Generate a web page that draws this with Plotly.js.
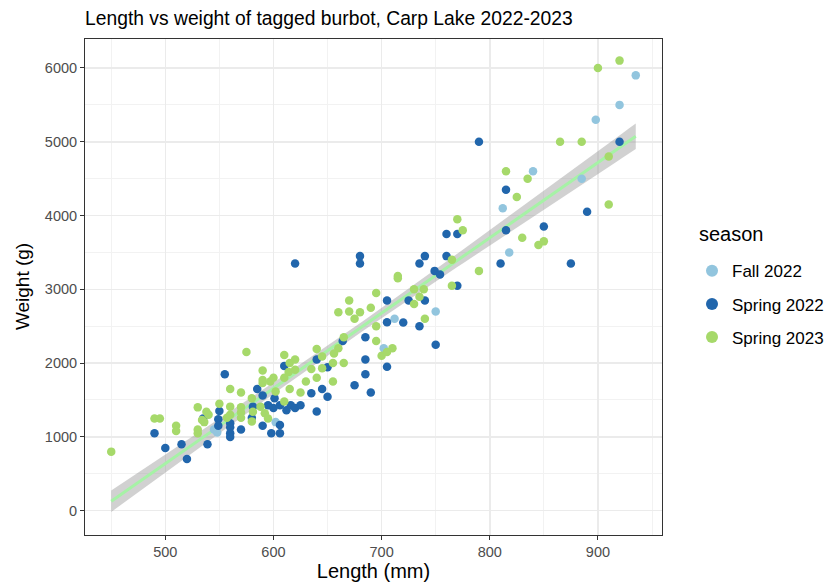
<!DOCTYPE html>
<html>
<head>
<meta charset="utf-8">
<script src="https://cdn.plot.ly/plotly-3.0.1.min.js"></script>
<style>
  html, body { margin: 0; padding: 0; background: #ffffff; }
  #chart { width: 830px; height: 588px; }
</style>
</head>
<body>
<div id="chart"></div>
<script>
// Tagged burbot measurements, Carp Lake: length (mm) and weight (g) by season
const seasons = ['Fall 2022', 'Spring 2022', 'Spring 2023'];
const seasonColors = ['#92c5de', '#2166ac', '#a6d96a'];

const fall22Length = [545, 548, 602, 702, 712, 750, 812, 818, 840, 885, 898, 920, 935];
const fall22Weight = [1100, 1060, 1200, 2200, 2600, 2700, 4100, 3500, 4600, 4500, 5300, 5500, 5900];

const spring22Length = [490, 500, 515, 520, 539, 535, 550, 549, 549, 560, 560, 560, 560, 570, 580, 581,
  590, 590, 585, 555, 601, 595, 600, 598, 606, 606, 606, 612, 616, 620, 625, 610, 635, 640, 640, 645,
  650, 650, 620, 680, 680, 664, 685, 685, 685, 675, 690, 705, 705, 705, 720, 725, 735, 740, 735, 740,
  750, 749, 754, 760, 760, 770, 770, 790, 810, 815, 815, 850, 875, 890, 920];
const spring22Weight = [1050, 850, 900, 700, 900, 1250, 1350, 1240, 1150, 1185, 1130, 1050, 1000, 1100, 1260, 1410,
  1150, 1560, 1650, 1850, 1525, 1430, 1390, 1050, 1050, 1160, 1430, 1360, 1430, 1390, 1430, 1960, 1590, 2050, 1345, 1650,
  1545, 1945, 3350, 3450, 3350, 2300, 2350, 2050, 1850, 1700, 1600, 1950, 2850, 2555, 2550, 2850, 2500, 2850, 3350, 3450,
  2250, 3250, 3200, 3450, 3750, 3750, 3050, 5000, 3350, 3800, 4350, 3850, 3350, 4050, 5000];

const spring23Length = [450, 490, 495, 510, 510, 530, 530, 530, 534, 536, 538, 540, 550, 557, 560, 560,
  560, 570, 575, 570, 570, 570, 580, 581, 580, 588, 592, 595, 590, 590, 590, 597, 600, 602, 610, 610,
  610, 614, 615, 620, 620, 615, 625, 630, 635, 640, 640, 645, 645, 655, 655, 665, 660, 665, 656, 660,
  670, 670, 675, 680, 690, 695, 695, 695, 700, 705, 710, 715, 715, 730, 739, 735, 730, 740, 765, 765,
  770, 775, 790, 815, 825, 830, 835, 845, 850, 865, 885, 900, 910, 910, 920];
const spring23Weight = [800, 1250, 1250, 1150, 1080, 1400, 1100, 1050, 1230, 1200, 1340, 1300, 1450, 1260, 1300, 1410,
  1650, 1600, 2150, 1400, 1330, 1260, 1525, 1340, 1210, 1410, 1320, 1250, 1900, 1770, 1730, 1750, 1800, 1615, 1800, 1480,
  2110, 1880, 2000, 2050, 1910, 1650, 1600, 1750, 1920, 1800, 2190, 2090, 1930, 1750, 2000, 2000, 2200, 2350, 2130, 2690,
  2850, 2700, 2600, 2690, 2750, 2950, 2500, 2300, 2100, 2150, 2200, 3180, 3150, 3000, 3000, 2900, 2800, 2600, 3400, 3050,
  3950, 3800, 3250, 4600, 4250, 3700, 4500, 3600, 3650, 5000, 5000, 6000, 4800, 4150, 6100];

const xTickVals = [500, 600, 700, 800, 900];
const yTickVals = [0, 1000, 2000, 3000, 4000, 5000, 6000];

// Ordinary least squares fit over all fish, with a 95% confidence band
function linearFit(xs, ys) {
  const n = xs.length;
  const mx = xs.reduce((a, b) => a + b, 0) / n;
  const my = ys.reduce((a, b) => a + b, 0) / n;
  let sxx = 0, sxy = 0;
  for (let i = 0; i < n; i++) { sxx += (xs[i] - mx) ** 2; sxy += (xs[i] - mx) * (ys[i] - my); }
  const slope = sxy / sxx;
  const intercept = my - slope * mx;
  let sse = 0;
  for (let i = 0; i < n; i++) { sse += (ys[i] - intercept - slope * xs[i]) ** 2; }
  const s = Math.sqrt(sse / (n - 2));
  return { n, mx, sxx, slope, intercept, s };
}

const allLength = fall22Length.concat(spring22Length, spring23Length);
const allWeight = fall22Weight.concat(spring22Weight, spring23Weight);
const fit = linearFit(allLength, allWeight);
const tCrit = 1.972;
const xMin = Math.min(...allLength), xMax = Math.max(...allLength);
const gridX = [], fitY = [], lowY = [], highY = [];
for (let k = 0; k < 80; k++) {
  const x = xMin + (xMax - xMin) * k / 79;
  const yhat = fit.intercept + fit.slope * x;
  const se = fit.s * Math.sqrt(1 / fit.n + (x - fit.mx) ** 2 / fit.sxx);
  gridX.push(x); fitY.push(yhat);
  lowY.push(yhat - tCrit * se); highY.push(yhat + tCrit * se);
}

const font = 'Liberation Sans, Arial, Helvetica, sans-serif';

const traces = [
  { x: gridX, y: lowY, type: 'scatter', mode: 'lines', line: { width: 0, color: 'rgba(0,0,0,0)' },
    showlegend: false, hoverinfo: 'skip' },
  { x: gridX, y: highY, type: 'scatter', mode: 'lines', line: { width: 0, color: 'rgba(0,0,0,0)' },
    fill: 'tonexty', fillcolor: 'rgba(153,153,153,0.45)', showlegend: false, hoverinfo: 'skip' },
  { x: gridX, y: fitY, type: 'scatter', mode: 'lines', line: { width: 3, color: '#a6f2a6' },
    showlegend: false, hoverinfo: 'skip' }
];

const seriesData = [
  [fall22Length, fall22Weight],
  [spring22Length, spring22Weight],
  [spring23Length, spring23Weight]
];
seriesData.forEach(([xs, ys], i) => {
  traces.push({
    x: xs, y: ys, type: 'scatter', mode: 'markers', name: seasons[i],
    legendgroup: seasons[i],
    marker: { size: 8.5, color: seasonColors[i] }
  });
});

const layout = {
  width: 830, height: 588,
  margin: { l: 85, r: 168, t: 39, b: 53, autoexpand: false },
  paper_bgcolor: '#ffffff', plot_bgcolor: '#ffffff',
  font: { family: font, color: '#000000' },
  title: {
    text: 'Length vs weight of tagged burbot, Carp Lake 2022-2023',
    font: { family: font, size: 19.3, color: '#000000' },
    xref: 'paper', x: 0, xanchor: 'left',
    yref: 'container', y: 0.969, yanchor: 'middle'
  },
  xaxis: {
    range: [425.75, 959.25], tickvals: xTickVals, ticktext: xTickVals.map(String),
    showgrid: true, gridcolor: '#ebebeb', gridwidth: 1.6, zeroline: false,
    minor: { dtick: 50, tick0: 0, showgrid: true, gridcolor: '#f2f2f2', gridwidth: 1 },
    showline: true, mirror: true, linecolor: '#333333', linewidth: 1,
    ticks: 'outside', ticklen: 4, tickcolor: '#333333', tickwidth: 1,
    tickfont: { family: font, size: 14.5, color: '#4d4d4d' },
    title: { text: 'Length (mm)', font: { family: font, size: 20, color: '#000000' }, standoff: 3 }
  },
  yaxis: {
    range: [-330, 6393], tickvals: yTickVals, ticktext: yTickVals.map(String),
    showgrid: true, gridcolor: '#ebebeb', gridwidth: 1.6, zeroline: false,
    minor: { dtick: 500, tick0: 0, showgrid: true, gridcolor: '#f2f2f2', gridwidth: 1 },
    showline: true, mirror: true, linecolor: '#333333', linewidth: 1,
    ticks: 'outside', ticklen: 4, tickcolor: '#333333', tickwidth: 1,
    tickfont: { family: font, size: 14.5, color: '#4d4d4d' }
  },
  legend: {
    x: 1.052, xanchor: 'left', y: 0.568, yanchor: 'top',
    font: { family: font, size: 17, color: '#000000' },
    tracegroupgap: 8, itemsizing: 'constant', bgcolor: 'rgba(0,0,0,0)'
  },
  annotations: [
    {
      text: 'season', xref: 'paper', yref: 'paper', x: 1.061, y: 0.607,
      xanchor: 'left', yanchor: 'middle', showarrow: false,
      font: { family: font, size: 20, color: '#000000' }
    },
    {
      // y axis title, set a little further out than the axis standoff allows
      text: 'Weight (g)', xref: 'paper', yref: 'paper', x: -0.109, y: 0.5,
      xanchor: 'center', yanchor: 'middle', textangle: -90, showarrow: false,
      font: { family: font, size: 19, color: '#000000' }
    }
  ],
  showlegend: true
};

Plotly.newPlot('chart', traces, layout, { displayModeBar: false, staticPlot: true });
</script>
</body>
</html>
